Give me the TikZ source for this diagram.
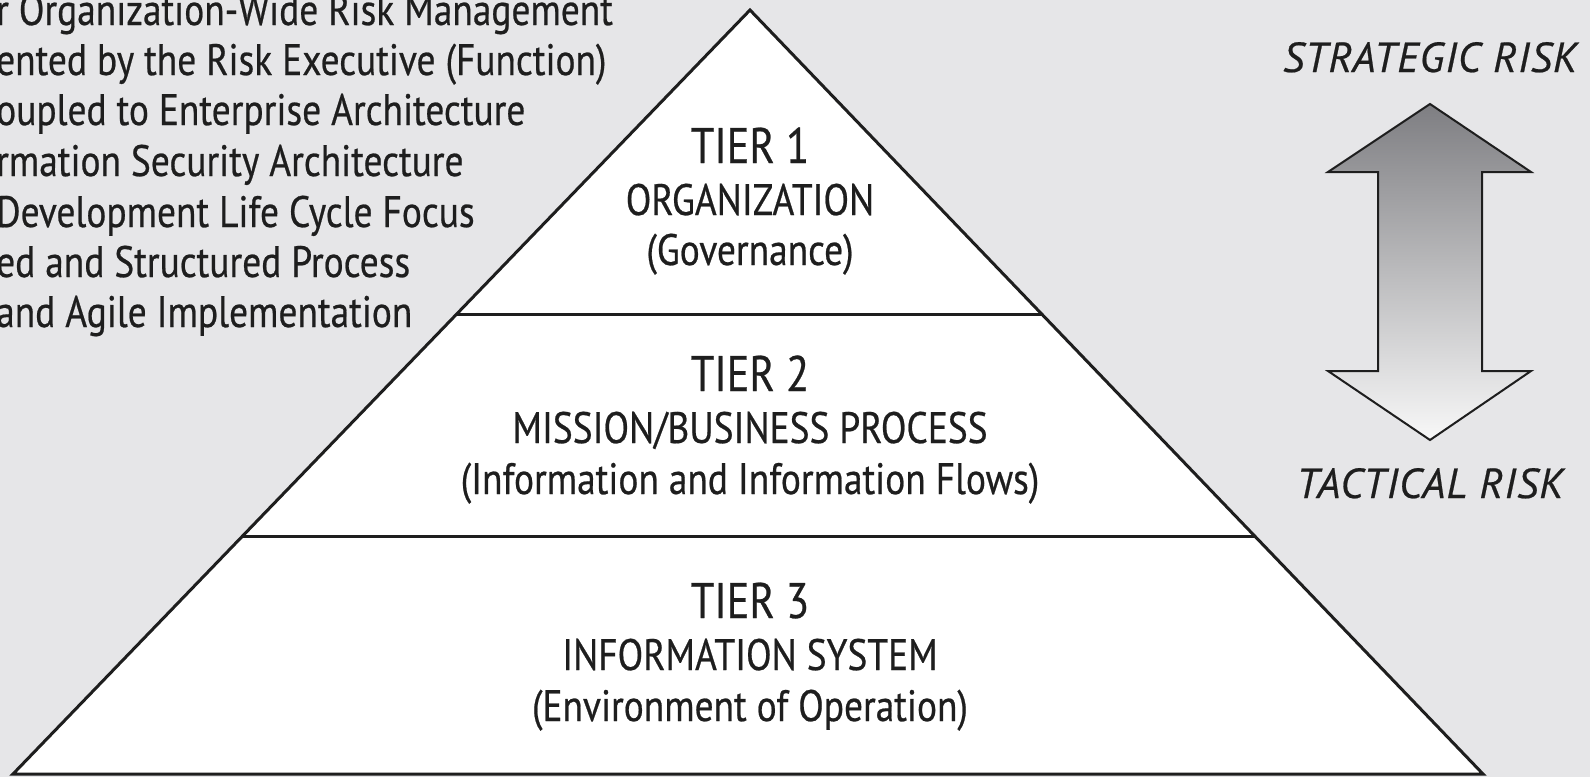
\documentclass[tikz,border=0pt]{standalone}
\usepackage{fontspec}
\usetikzlibrary{calc}
\setmainfont{PT Sans}[FakeStretch=0.85, FakeBold=0.5]
\newfontfamily\riskfont{PT Sans}[LetterSpace=2.5, FakeBold=0.5]
\definecolor{bgcol}{HTML}{E6E6E8}
\definecolor{inkcol}{HTML}{1E1E1E}
\definecolor{arrowtop}{HTML}{7E7E82}
\definecolor{arrowbot}{HTML}{F8F8F8}
\tikzset{
  tiertitle/.style={anchor=base, inner sep=0pt, text=inkcol, font=\fontsize{50}{60}\selectfont},
  tiersub/.style={anchor=base, inner sep=0pt, text=inkcol, font=\fontsize{44}{52}\selectfont},
  leftline/.style={anchor=base west, inner sep=0pt, text=inkcol, font=\fontsize{44}{52}\selectfont},
  risklabel/.style={anchor=base, inner sep=0pt, text=inkcol, font=\riskfont\fontsize{42}{50}\selectfont\itshape},
  edge/.style={draw=inkcol, line width=3pt},
}
\begin{document}
\begin{tikzpicture}[x=1pt,y=-1pt]
\useasboundingbox (0,0) rectangle (1590,777);
\fill[bgcol] (0,0) rectangle (1590,777);
% pyramid
\coordinate (apex) at (750,10);
\coordinate (bl) at (13,774);
\coordinate (br) at (1483,774);
\filldraw[fill=white, edge, line join=miter] (bl) -- (apex) -- (br) -- cycle;
\coordinate (t1l) at ($(bl)!0.6008!(apex)$);
\coordinate (t1r) at ($(br)!0.6008!(apex)$);
\coordinate (t2l) at ($(bl)!0.3115!(apex)$);
\coordinate (t2r) at ($(br)!0.3115!(apex)$);
\draw[edge] (t1l) -- (t1r);
\draw[edge] (t2l) -- (t2r);
% tier texts
\node[tiertitle] (tier1) at (750,163) {TIER 1};
\node[tiersub] (org) at (750,215) {ORGANIZATION};
\node[tiersub] (gov) at (750,265) {(Governance)};
\node[tiertitle] (tier2) at (750,391) {TIER 2};
\node[tiersub] (mbp) at (750,443) {MISSION/BUSINESS PROCESS};
\node[tiersub] (iif) at (750,494) {(Information and Information Flows)};
\node[tiertitle] (tier3) at (750,618) {TIER 3};
\node[tiersub] (infosys) at (750,670) {INFORMATION SYSTEM};
\node[tiersub] (env) at (750,721) {(Environment of Operation)};
% left text
\node[leftline] (l1) at (-4,25) {r Organization-Wide Risk Management};
\node[leftline] (l2) at (-4,75) {ented by the Risk Executive (Function)};
\node[leftline] (l3) at (-4,125) {oupled to Enterprise Architecture};
\node[leftline] (l4) at (-4,176) {rmation Security Architecture};
\node[leftline] (l5) at (-4,227) {Development Life Cycle Focus};
\node[leftline] (l6) at (-4,277) {ed and Structured Process};
\node[leftline] (l7) at (-4,327) {and Agile Implementation};
% risk arrow
\shade[top color=arrowtop, bottom color=arrowbot, draw=inkcol, line width=2pt, line join=miter]
  (1430,104) -- (1531,172) -- (1482,172) -- (1482,371) -- (1531,371) -- (1430,440)
  -- (1328,371) -- (1378,371) -- (1378,172) -- (1328,172) -- cycle;
\node[risklabel] (strat) at (1430,72) {STRATEGIC RISK};
\node[risklabel] (tact) at (1430,498) {TACTICAL RISK};
\end{tikzpicture}
\end{document}
